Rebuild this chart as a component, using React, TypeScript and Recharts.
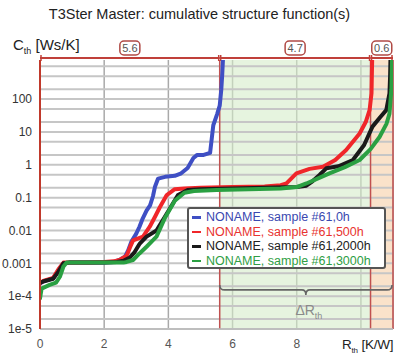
import {
  CartesianGrid,
  Line,
  LineChart,
  ReferenceArea,
  ReferenceLine,
  XAxis,
  YAxis
} from "recharts";

// R_th [K/W] / C_th [Ws/K] points
const r0h = [0, 0.1, 0.41, 0.57, 0.73, 0.9, 1.5, 2.0, 2.3, 2.5, 2.65, 2.75, 2.85, 3.0, 3.1, 3.2, 3.32, 3.43, 3.52, 3.58, 3.68, 3.9, 4.2, 4.4, 4.6, 4.78, 4.9, 5.1, 5.3, 5.4, 5.52, 5.6, 5.65, 5.68, 5.7];
const c0h = [2.4e-4, 2.8e-4, 3.5e-4, 6e-4, 1e-3, 1.05e-3, 1.05e-3, 1.05e-3, 1.1e-3, 1.3e-3, 1.6e-3, 2.5e-3, 4.6e-3, 8e-3, 0.013, 0.023, 0.04, 0.058, 0.11, 0.21, 0.38, 0.43, 0.46, 0.55, 0.8, 1.6, 2.0, 2.0, 2.3, 16, 35, 63, 200, 600, 1500];

const r500h = [0, 0.1, 0.41, 0.57, 0.73, 0.9, 1.5, 2.0, 2.3, 2.5, 2.7, 2.8, 2.9, 3.21, 3.42, 3.6, 3.73, 3.95, 4.2, 4.5, 5.0, 6.0, 7.0, 7.5, 7.68, 7.99, 8.4, 8.82, 9.2, 9.54, 9.96, 10.15, 10.27, 10.33, 10.35];
const c500h = [2.5e-4, 2.9e-4, 3.6e-4, 6.5e-4, 1.05e-3, 1.05e-3, 1.05e-3, 1.1e-3, 1.15e-3, 1.3e-3, 1.7e-3, 3e-3, 5e-3, 6.5e-3, 0.013, 0.028, 0.05, 0.12, 0.18, 0.19, 0.2, 0.21, 0.22, 0.24, 0.27, 0.55, 0.75, 0.87, 1.4, 2.8, 9, 20, 46, 150, 1500];

const r2000h = [0, 0.1, 0.41, 0.57, 0.73, 0.9, 1.5, 2.0, 2.4, 2.6, 2.8, 2.95, 3.11, 3.32, 3.63, 4.02, 4.3, 4.6, 5.0, 6.0, 7.0, 8.0, 8.3, 8.5, 8.71, 8.92, 9.3, 9.75, 10.1, 10.36, 10.6, 10.79, 10.89, 10.91, 10.92];
const c2000h = [2.5e-4, 2.8e-4, 3.4e-4, 5.5e-4, 1e-3, 1.05e-3, 1.05e-3, 1.05e-3, 1.1e-3, 1.2e-3, 1.5e-3, 2.2e-3, 4e-3, 6.5e-3, 0.01, 0.042, 0.12, 0.17, 0.18, 0.19, 0.2, 0.21, 0.23, 0.32, 0.49, 0.78, 0.9, 1.4, 4, 14.5, 28, 46, 148, 500, 1500];

const r3000h = [0, 0.05, 0.3, 0.5, 0.62, 0.73, 0.83, 1.5, 2.0, 2.6, 2.7, 2.9, 3.1, 3.32, 3.5, 3.63, 3.9, 4.2, 4.5, 4.8, 5.5, 6.5, 7.5, 8.0, 8.3, 8.7, 9.02, 9.5, 9.96, 10.3, 10.58, 10.8, 10.89, 10.95, 10.97];
const c3000h = [8.5e-5, 1.7e-4, 2.2e-4, 2.6e-4, 3.9e-4, 8e-4, 1.05e-3, 1.05e-3, 1.05e-3, 1.05e-3, 1.1e-3, 1.26e-3, 2e-3, 3.2e-3, 4.8e-3, 6.5e-3, 0.025, 0.08, 0.14, 0.16, 0.17, 0.18, 0.19, 0.21, 0.27, 0.4, 0.55, 0.85, 1.4, 3, 7, 18, 36, 200, 1500];

const seriesNames = ["NONAME, sample #61,0h", "NONAME, sample #61,500h", "NONAME, sample #61,2000h", "NONAME, sample #61,3000h"];
const seriesColors = ["#3f4fc4", "#f0262a", "#1a1a1a", "#2aa042"];
const legendTextColors = ["#3a48b0", "#e8332f", "#222222", "#2f9e44"];

// measured thermal resistance segments (K/W) shown on top
const segmentBounds = [0, 5.6, 10.3, 11];
const segmentLabels = ["5.6", "4.7", "0.6"];

const xTicks = [0, 2, 4, 6, 8, 10];
const yTicks = [1e-5, 2e-5, 5e-5, 1e-4, 2e-4, 5e-4, 1e-3, 2e-3, 5e-3, 0.01, 0.02, 0.05, 0.1, 0.2, 0.5, 1, 2, 5, 10, 20, 50, 100, 200, 500, 1000];
const yDecadeLabels: Record<string, string> = {
  "0.00001": "1e-5",
  "0.0001": "1e-4",
  "0.001": "0.001",
  "0.01": "0.01",
  "0.1": "0.1",
  "1": "1",
  "10": "10",
  "100": "100"
};

const Y_TOP = 1550;
const BRACE_Y = 1.55e-4;

const toPoints = (r: number[], c: number[]) => r.map((v, i) => ({ r: v, c: c[i] }));
const series = [
  toPoints(r0h, c0h),
  toPoints(r500h, c500h),
  toPoints(r2000h, c2000h),
  toPoints(r3000h, c3000h)
];

const FONT = '"Liberation Sans", Arial, sans-serif';

const SegmentShape = (props: any) => {
  const { x1, x2, y1, text } = props;
  const y = y1 - 2;
  const cx = (x1 + x2) / 2;
  return (
    <g>
      <line x1={x1} x2={x2} y1={y} y2={y} stroke="#c0403a" strokeWidth={2} />
      <line x1={x1 + 1} x2={x1 + 1} y1={y - 3} y2={y + 3} stroke="#c0403a" strokeWidth={1.5} />
      <line x1={x2 - 1} x2={x2 - 1} y1={y - 3} y2={y + 3} stroke="#c0403a" strokeWidth={1.5} />
      <rect x={cx - 10} y={y - 17} width={20} height={14} rx={4} fill="#fff" stroke="#b04a45" strokeWidth={1.5} />
      <text x={cx} y={y - 6} textAnchor="middle" fontSize={11} fill="#555" fontFamily={FONT}>
        {text}
      </text>
    </g>
  );
};

const BraceShape = (props: any) => {
  const { x1, x2, y1 } = props;
  const y = y1;
  const mid = (x1 + x2) / 2;
  const d = `M ${x1} ${y - 5} Q ${x1} ${y} ${x1 + 5} ${y} L ${mid - 4} ${y} Q ${mid} ${y} ${mid} ${y + 5} Q ${mid} ${y} ${mid + 4} ${y} L ${x2 - 5} ${y} Q ${x2} ${y} ${x2} ${y - 5}`;
  return (
    <g>
      <path d={d} fill="none" stroke="#666" strokeWidth={1.6} />
      <text x={mid + 3} y={y + 25} textAnchor="middle" fontSize={14} fill="#8a8a8a" fontFamily={FONT}>
        ΔR
        <tspan fontSize={9} dy={4}>th</tspan>
      </text>
    </g>
  );
};

export default function App() {
  return (
    <div style={{ position: "relative", width: 399, height: 356, fontFamily: FONT, background: "#fff" }}>
      <style>{"body{margin:0}"}</style>
      <div style={{ position: "absolute", left: 0, width: 399, top: 6, textAlign: "center", fontSize: 14.5, color: "#222" }}>
        T3Ster Master: cumulative structure function(s)
      </div>
      <div style={{ position: "absolute", left: 13, top: 36, fontSize: 15, color: "#222", whiteSpace: "nowrap" }}>
        C<sub style={{ fontSize: 9 }}>th</sub> [Ws/K]
      </div>
      <div style={{ position: "absolute", left: 342, top: 337, fontSize: 13.5, color: "#222", whiteSpace: "nowrap", letterSpacing: -0.2 }}>
        R<sub style={{ fontSize: 8 }}>th</sub> [K/W]
      </div>
      <LineChart width={399} height={356} margin={{ top: 60, right: 6, bottom: 0, left: 0 }}>
        <ReferenceArea x1={segmentBounds[1]} x2={segmentBounds[2]} y1={1e-5} y2={Y_TOP} fill="#d6ecca" fillOpacity={0.6} stroke="none" ifOverflow="hidden" />
        <ReferenceArea x1={segmentBounds[2]} x2={segmentBounds[3]} y1={1e-5} y2={Y_TOP} fill="#f7d3ad" fillOpacity={0.65} stroke="none" ifOverflow="hidden" />
        {yTicks.map((v) => (
          <ReferenceLine key={v} y={v} stroke="#c6c6c6" strokeWidth={2} />
        ))}
        <CartesianGrid horizontal={false} stroke="#a9a9a9" strokeWidth={1.5} />
        <XAxis
          type="number"
          dataKey="r"
          domain={[0, 11]}
          ticks={xTicks}
          allowDataOverflow
          height={27}
          axisLine={{ stroke: "#bbb", strokeWidth: 1.5 }}
          tickLine={false}
          tickMargin={4}
          tickFormatter={(v: number) => (v === 10 ? "" : String(v))}
          tick={{ fontSize: 12, fill: "#555", fontFamily: FONT }}
        />
        <YAxis
          type="number"
          scale="log"
          domain={[1e-5, Y_TOP]}
          ticks={yTicks}
          allowDataOverflow
          width={40}
          axisLine={{ stroke: "#c0392b", strokeWidth: 2 }}
          tickLine={false}
          interval={0}
          tickFormatter={(v: number) => yDecadeLabels[String(v)] ?? ""}
          tick={{ fontSize: 12, fill: "#333", fontFamily: FONT }}
        />
        <ReferenceLine x={segmentBounds[1]} stroke="#c05050" strokeWidth={1.5} />
        <ReferenceLine x={segmentBounds[2]} stroke="#c05050" strokeWidth={1.5} />
        <ReferenceLine x={segmentBounds[3]} stroke="#c05050" strokeWidth={1.5} />
        {segmentLabels.map((t, i) => (
          <ReferenceLine
            key={t}
            segment={[
              { x: segmentBounds[i], y: Y_TOP },
              { x: segmentBounds[i + 1], y: Y_TOP }
            ]}
            ifOverflow="visible"
            shape={(p: any) => <SegmentShape {...p} text={t} />}
          />
        ))}
        <ReferenceLine
          segment={[
            { x: segmentBounds[1], y: BRACE_Y },
            { x: 10.97, y: BRACE_Y }
          ]}
          shape={(p: any) => <BraceShape {...p} />}
        />
        {series.map((d, i) => (
          <Line
            key={seriesNames[i]}
            data={d}
            dataKey="c"
            type="linear"
            stroke={seriesColors[i]}
            strokeWidth={4}
            strokeLinecap="round"
            strokeLinejoin="round"
            dot={false}
            isAnimationActive={false}
          />
        ))}
      </LineChart>
      <div
        style={{
          position: "absolute",
          left: 187,
          top: 207,
          width: 192,
          height: 57,
          border: "2px solid #555",
          borderRadius: 3,
          background: "#fff",
          padding: "1px 0 0 3px",
          fontSize: 12.5,
          lineHeight: "14.5px"
        }}
      >
        {seriesNames.map((n, i) => (
          <div key={n} style={{ display: "flex", alignItems: "center", whiteSpace: "nowrap" }}>
            <span style={{ display: "inline-block", width: 9, height: 2.5, background: seriesColors[i], marginRight: 5 }} />
            <span style={{ color: legendTextColors[i] }}>{n}</span>
          </div>
        ))}
      </div>
    </div>
  );
}
